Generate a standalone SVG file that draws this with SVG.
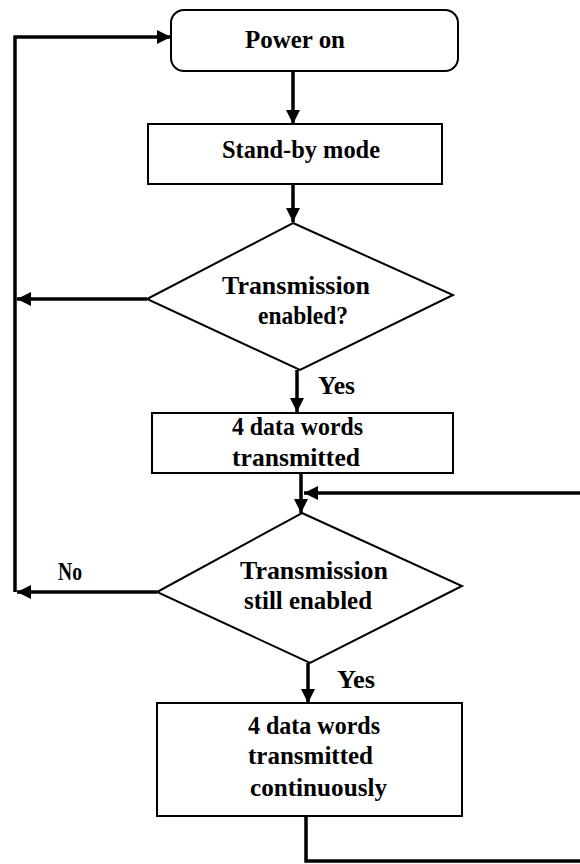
<svg xmlns="http://www.w3.org/2000/svg" width="580" height="864" viewBox="0 0 580 864">
<style>
.node{fill:#fff;stroke:#000;stroke-width:2}
.t{font-family:"Liberation Serif","Times New Roman",serif;font-weight:bold;font-size:25px;fill:#000}
.c{fill:none;stroke:#000;stroke-width:3.5}
</style>
<defs>
<marker id="ah" viewBox="0 0 10 10" refX="10" refY="5" markerWidth="4.5" markerHeight="4" orient="auto" markerUnits="strokeWidth">
<path d="M0,0 L10,5 L0,10 Z" fill="#000"/>
</marker>
</defs>
<g id="connectors">
<path class="c" d="M293,71 V124" marker-end="url(#ah)"/>
<path class="c" d="M293,184 V222" marker-end="url(#ah)"/>
<path class="c" d="M297,370 V412" marker-end="url(#ah)"/>
<path class="c" d="M301,473 V513" marker-end="url(#ah)"/>
<path class="c" d="M308,663 V703" marker-end="url(#ah)"/>
<path class="c" d="M147,299 H17" marker-end="url(#ah)"/>
<path class="c" d="M157,592 H17" marker-end="url(#ah)"/>
<path class="c" d="M15,592 V37 H171" marker-end="url(#ah)"/>
<path class="c" d="M306,816 V861 H582"/>
<path class="c" d="M582,493 H304" marker-end="url(#ah)"/>
</g>
<g id="power_on">
<rect class="node" x="171" y="10" width="287" height="61" rx="13"/>
<text class="t" x="245" y="48" textLength="100" lengthAdjust="spacingAndGlyphs">Power on</text>
</g>
<g id="standby">
<rect class="node" x="148" y="124" width="294" height="60"/>
<text class="t" x="222" y="158" textLength="158" lengthAdjust="spacingAndGlyphs">Stand-by mode</text>
</g>
<g id="transmission_enabled">
<polygon class="node" points="293,223 453,295 300,370 147,299"/>
<text class="t" x="222" y="294" textLength="148" lengthAdjust="spacingAndGlyphs">Transmission</text>
<text class="t" x="258" y="324" textLength="90" lengthAdjust="spacingAndGlyphs">enabled?</text>
</g>
<text class="t" x="318" y="394" textLength="37" lengthAdjust="spacingAndGlyphs">Yes</text>
<g id="data_words">
<rect class="node" x="152" y="413" width="301" height="60"/>
<text class="t" x="232" y="435" textLength="131" lengthAdjust="spacingAndGlyphs">4 data words</text>
<text class="t" x="232" y="466" textLength="128" lengthAdjust="spacingAndGlyphs">transmitted</text>
</g>
<g id="still_enabled">
<polygon class="node" points="302,513 462,586 310,663 157,592"/>
<text class="t" x="240" y="579" textLength="148" lengthAdjust="spacingAndGlyphs">Transmission</text>
<text class="t" x="244" y="609" textLength="128" lengthAdjust="spacingAndGlyphs">still enabled</text>
</g>
<text class="t" x="58" y="580" textLength="24" lengthAdjust="spacingAndGlyphs">No</text>
<text class="t" x="337" y="688" textLength="38" lengthAdjust="spacingAndGlyphs">Yes</text>
<g id="continuous">
<rect class="node" x="157" y="703" width="305" height="113"/>
<text class="t" x="248" y="734" textLength="132" lengthAdjust="spacingAndGlyphs">4 data words</text>
<text class="t" x="248" y="764" textLength="125" lengthAdjust="spacingAndGlyphs">transmitted</text>
<text class="t" x="250" y="796" textLength="137" lengthAdjust="spacingAndGlyphs">continuously</text>
</g>
</svg>
